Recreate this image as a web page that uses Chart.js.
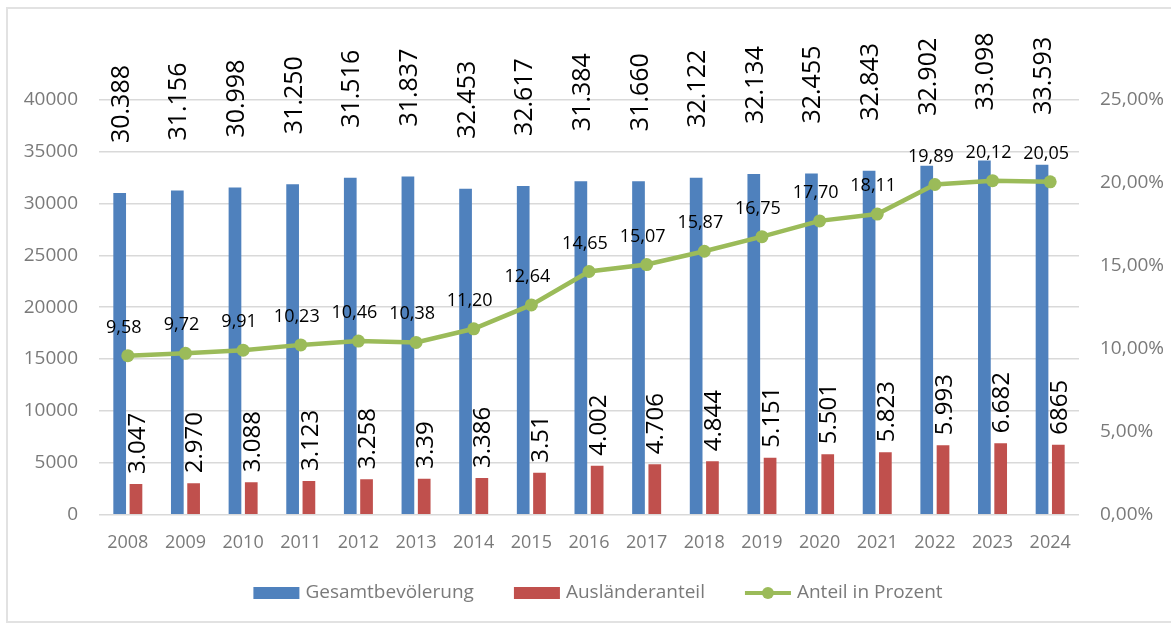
<!DOCTYPE html>
<html>
<head>
<meta charset="utf-8">
<script src="https://cdn.jsdelivr.net/npm/chart.js@4.4.1/dist/chart.umd.min.js"></script>
<style>
  html, body { margin: 0; padding: 0; background: #fff; }
  #wrap { position: relative; width: 1171px; height: 623px; overflow: hidden; }
  #frame { position: absolute; left: 6px; top: 7px; width: 1200px; height: 612px; border: 2px solid #e2e2e2; border-right: none; }
  canvas { position: absolute; left: 0; top: 0; }
</style>
</head>
<body>
<div id="wrap">
  <div id="frame"></div>
  <canvas id="chart" width="1171" height="623"></canvas>
</div>
<script>
// Jahre
const years = ["2008", "2009", "2010", "2011", "2012", "2013", "2014", "2015", "2016",
  "2017", "2018", "2019", "2020", "2021", "2022", "2023", "2024"];

// bar heights
const population = [31000, 31240, 31530, 31860, 32470, 32590, 31410, 31670, 32150,
  32150, 32470, 32830, 32880, 33140, 33630, 34140, 33720];
const foreigners = [2960, 3030, 3120, 3250, 3410, 3470, 3540, 4050, 4730,
  4860, 5150, 5500, 5820, 6020, 6690, 6880, 6750];
const percent = [9.58, 9.72, 9.91, 10.23, 10.46, 10.38, 11.20, 12.64, 14.65,
  15.07, 15.87, 16.75, 17.70, 18.11, 19.89, 20.12, 20.05];

// label texts printed above the bars
const populationLabels = ["30.388", "31.156", "30.998", "31.250", "31.516", "31.837", "32.453", "32.617", "31.384",
  "31.660", "32.122", "32.134", "32.455", "32.843", "32.902", "33.098", "33.593"];
const foreignerLabels = ["3.047", "2.970", "3.088", "3.123", "3.258", "3.39", "3.386", "3.51", "4.002",
  "4.706", "4.844", "5.151", "5.501", "5.823", "5.993", "6.682", "6865"];

const leftTicks = [0, 5000, 10000, 15000, 20000, 25000, 30000, 35000, 40000];
const rightTicks = [0, 5, 10, 15, 20, 25];

const FONT = '"Open Sans", "DejaVu Sans", sans-serif';
const GREY = "#7a7a7a";
const BLUE = "#4f81bd";
const RED = "#c0504d";
const GREEN = "#9bbb59";

const fmtComma = v => v.toFixed(2).replace(".", ",");

// data labels (rotated on bars, plain on the line)
const valueLabels = {
  id: "valueLabels",
  afterDatasetsDraw(chart) {
    const ctx = chart.ctx;
    ctx.save();
    ctx.fillStyle = "#000";

    const rotated = [
      { ds: 0, texts: populationLabels, gap: 50, size: 25 },
      { ds: 1, texts: foreignerLabels, gap: 10, size: 24 }
    ];
    rotated.forEach(r => {
      chart.getDatasetMeta(r.ds).data.forEach((bar, i) => {
        ctx.save();
        ctx.translate(bar.x, bar.y - r.gap);
        ctx.rotate(-Math.PI / 2);
        ctx.font = r.size + "px " + FONT;
        ctx.textAlign = "left";
        ctx.textBaseline = "alphabetic";
        ctx.fillText(r.texts[i], 0, r.size * 0.36);
        ctx.restore();
      });
    });

    ctx.font = "18px " + FONT;
    ctx.textAlign = "center";
    ctx.textBaseline = "alphabetic";
    chart.getDatasetMeta(2).data.forEach((pt, i) => {
      ctx.fillText(fmtComma(percent[i]), pt.x - 4, pt.y - 29 + 6);
    });
    ctx.restore();
  }
};

// legend below the axis, Excel style
const bottomLegend = {
  id: "bottomLegend",
  afterDraw(chart) {
    const ctx = chart.ctx;
    const sets = chart.data.datasets;
    const boxW = 46, boxH = 12, textGap = 6, itemGap = 40;
    const y = 593;
    ctx.save();
    ctx.font = "19px " + FONT;
    const widths = sets.map(s => boxW + textGap + ctx.measureText(s.label).width);
    const total = widths.reduce((a, b) => a + b, 0) + itemGap * (sets.length - 1);
    let x = (chart.chartArea.left + chart.chartArea.right) / 2 + 9 - total / 2;

    sets.forEach((s, i) => {
      if (s.type === "line") {
        ctx.strokeStyle = s.borderColor;
        ctx.lineWidth = 4;
        ctx.beginPath();
        ctx.moveTo(x, y);
        ctx.lineTo(x + boxW, y);
        ctx.stroke();
        ctx.fillStyle = s.borderColor;
        ctx.beginPath();
        ctx.arc(x + boxW / 2, y, 6, 0, Math.PI * 2);
        ctx.fill();
      } else {
        ctx.fillStyle = s.backgroundColor;
        ctx.fillRect(x, y - boxH / 2, boxW, boxH);
      }
      ctx.fillStyle = GREY;
      ctx.textAlign = "left";
      ctx.textBaseline = "middle";
      ctx.fillText(s.label, x + boxW + textGap, y);
      x += widths[i] + itemGap;
    });
    ctx.restore();
  }
};

const ctx = document.getElementById("chart").getContext("2d");
new Chart(ctx, {
  data: {
    labels: years,
    datasets: [
      {
        type: "bar",
        label: "Gesamtbevölerung",
        data: population,
        backgroundColor: BLUE,
        yAxisID: "y",
        order: 2,
        categoryPercentage: 0.565,
        barPercentage: 0.78
      },
      {
        type: "bar",
        label: "Ausländeranteil",
        data: foreigners,
        backgroundColor: RED,
        yAxisID: "y",
        order: 2,
        categoryPercentage: 0.565,
        barPercentage: 0.78
      },
      {
        type: "line",
        label: "Anteil in Prozent",
        data: percent,
        borderColor: GREEN,
        backgroundColor: GREEN,
        borderWidth: 4.5,
        pointRadius: 6.5,
        pointBorderWidth: 0,
        pointBackgroundColor: GREEN,
        tension: 0,
        yAxisID: "y2",
        order: 1
      }
    ]
  },
  options: {
    responsive: false,
    animation: false,
    layout: { padding: { top: 99.7, left: 0, right: 0, bottom: 0 } },
    plugins: {
      legend: { display: false },
      tooltip: { enabled: false }
    },
    scales: {
      x: {
        grid: { display: false, drawTicks: false },
        border: { display: false },
        ticks: { color: GREY, font: { family: FONT, size: 18 }, padding: 17, maxRotation: 0 },
        afterFit: s => { s.height = 108.3; }
      },
      y: {
        position: "left",
        min: 0,
        max: 40000,
        afterBuildTicks: s => { s.ticks = leftTicks.map(v => ({ value: v })); },
        grid: { color: "#d9d9d9", lineWidth: 1.6, drawTicks: false },
        border: { display: false },
        ticks: {
          color: GREY,
          font: { family: FONT, size: 19 },
          padding: 21,
          callback: v => String(v)
        },
        afterFit: s => { s.width = 99; }
      },
      y2: {
        position: "right",
        min: 0,
        max: 25,
        afterBuildTicks: s => { s.ticks = rightTicks.map(v => ({ value: v })); },
        grid: { display: false, drawTicks: false },
        border: { display: false },
        ticks: {
          color: GREY,
          font: { family: FONT, size: 19 },
          padding: 21,
          callback: v => fmtComma(v) + "%"
        },
        afterFit: s => { s.width = 92; }
      }
    }
  },
  plugins: [valueLabels, bottomLegend]
});
</script>
</body>
</html>
